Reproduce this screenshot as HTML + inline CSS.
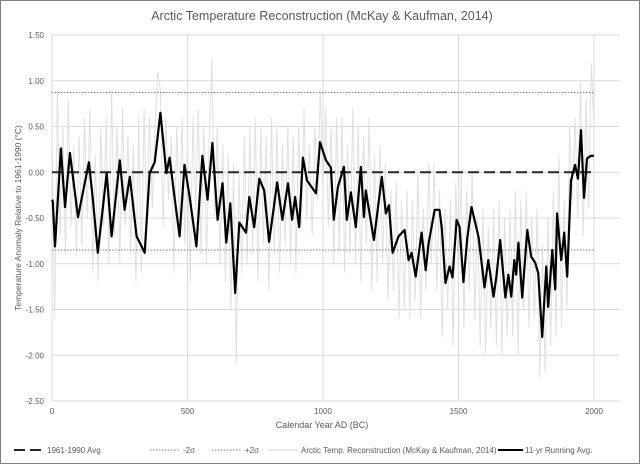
<!DOCTYPE html>
<html><head><meta charset="utf-8"><style>
body{margin:0;background:#fff}
#wrap{position:relative;width:638px;height:462px;border:1px solid #7f7f7f;overflow:hidden;font-family:"Liberation Sans",sans-serif}
svg{position:absolute;left:-1px;top:-1px}
</style></head><body>
<div id="wrap">
<svg id="c" width="640" height="464"></svg>
</div>
<script>
const xTicks=[0,500,1000,1500,2000];
const yTicks=[1.5,1.0,0.5,0.0,-0.5,-1.0,-1.5,-2.0,-2.5];
const avgYears=[0,3,11,33,48,66,77,96,136,151,169,202,220,250,268,287,312,342,360,379,400,422,434,452,471,489,507,533,555,574,592,611,629,643,658,676,691,716,728,746,765,783,801,831,850,871,886,897,912,926,941,974,989,1011,1029,1040,1055,1077,1088,1103,1121,1140,1151,1158,1188,1217,1232,1243,1257,1279,1301,1316,1327,1342,1364,1379,1390,1412,1430,1438,1452,1467,1478,1493,1504,1518,1533,1548,1574,1596,1610,1629,1640,1654,1673,1684,1695,1706,1713,1721,1735,1754,1768,1783,1794,1809,1824,1831,1846,1857,1864,1879,1890,1901,1915,1930,1941,1952,1963,1974,1988,2000];
const avgValues=[-0.3,-0.32,-0.81,0.26,-0.38,0.21,-0.05,-0.49,0.11,-0.30,-0.88,-0.01,-0.70,0.13,-0.41,-0.05,-0.70,-0.88,-0.01,0.11,0.65,-0.01,0.16,-0.27,-0.70,0.08,-0.25,-0.81,0.18,-0.30,0.32,-0.52,-0.12,-0.77,-0.34,-1.32,-0.55,-0.66,-0.27,-0.60,-0.07,-0.20,-0.76,-0.11,-0.52,-0.12,-0.52,-0.27,-0.60,0.16,-0.09,-0.23,0.33,0.13,0.05,-0.52,-0.16,0.06,-0.52,-0.22,-0.60,0.06,-0.49,-0.20,-0.74,-0.05,-0.45,-0.36,-0.88,-0.70,-0.63,-0.96,-0.88,-1.14,-0.66,-1.07,-0.77,-0.41,-0.41,-0.60,-1.21,-1.03,-1.15,-0.52,-0.60,-1.20,-0.71,-0.38,-0.71,-1.26,-0.96,-1.36,-1.14,-0.74,-1.37,-1.12,-1.36,-0.96,-1.12,-0.77,-1.37,-0.63,-0.92,-0.99,-1.10,-1.80,-1.03,-1.47,-0.85,-1.28,-0.45,-0.96,-0.66,-1.14,-0.09,0.08,-0.07,0.46,-0.28,0.15,0.18,0.18];
const rawStart=0, rawStep=10;
const rawValues=[0.4,-1.6,0.9,-0.7,0.5,-0.9,0.8,-0.6,0.3,-0.9,
0.4,-0.8,0.6,-0.5,0.7,-1.1,0.2,-1.2,0.5,-0.6,
0.6,-1.0,0.9,-0.7,0.5,-1.0,0.7,-0.6,0.4,-0.9,
0.3,-1.2,0.6,-1.1,0.7,-0.5,0.6,-0.4,0.5,1.1,
0.9,-0.6,0.6,-0.3,0.4,-1.1,0.5,-0.6,0.6,-0.8,
0.3,-1.2,0.6,-0.4,0.7,-0.9,0.5,-1.0,0.4,1.25,
-0.5,0.5,-1.0,0.3,-1.2,0.2,-1.5,0.1,-2.1,0.0,
-1.1,0.4,-1.0,0.5,-0.9,0.6,-1.2,0.5,-0.8,0.4,
-1.3,0.6,-0.9,0.5,-1.1,0.3,-0.8,0.5,-1.0,0.4,
-1.1,0.5,-0.6,0.7,-0.5,0.3,-0.7,0.5,-0.3,0.9,
-0.2,0.7,-0.6,0.5,-1.0,0.6,-0.9,0.6,-1.1,0.3,
-0.9,0.7,-1.0,0.5,-1.2,0.4,-0.8,0.6,-1.3,0.2,
-1.2,0.3,-1.0,0.1,-1.4,-0.2,-1.3,-0.1,-1.6,-0.3,
-1.5,-0.2,-1.6,-0.3,-1.4,0.0,-1.6,-0.4,-1.3,0.1,
-1.0,0.1,-1.3,-0.2,-1.8,-0.4,-1.5,-0.3,-1.9,-0.1,
-1.2,0.0,-1.7,-0.2,-1.3,0.0,-1.6,-0.5,-1.9,-0.4,
-2.0,-0.6,-1.7,-0.4,-1.9,-0.3,-2.0,-0.5,-1.8,-0.4,
-1.8,-0.2,-2.0,-0.3,-1.5,-0.2,-1.7,-0.5,-1.6,-0.4,
-2.25,-0.8,-2.2,-0.5,-1.9,-0.2,-1.8,0.2,-1.7,-0.3,
-1.5,0.5,-0.3,0.6,-0.5,1.0,-0.7,0.8,-0.4,1.2,0.5];
const baseline=0.0, plus2s=0.87, minus2s=-0.85;

const NS='http://www.w3.org/2000/svg';
const svg=document.getElementById('c');
const X0=52,X1=620,Y0=35,Y1=401;
function sx(v){return X0+(v-0)*(594-52)/2000;}
function sy(v){return Y0+(1.5-v)*(Y1-Y0)/4;}
function mk(t,a,p){const e=document.createElementNS(NS,t);for(const k in a)e.setAttribute(k,a[k]);(p||svg).appendChild(e);return e;}

yTicks.forEach(v=>{
 const l=mk('line',{x1:X0,x2:X1,y1:sy(v),y2:sy(v),stroke:'#d9d9d9','stroke-width':1});
 
 
 const t=mk('text',{x:44,y:sy(v)+3,'text-anchor':'end','font-size':8,fill:'#595959'});
 t.textContent=v.toFixed(2);
 
 
});
xTicks.forEach(v=>{
 const l=mk('line',{x1:sx(v),x2:sx(v),y1:Y0,y2:Y1,stroke:'#d9d9d9','stroke-width':1});
 
 
 const t=mk('text',{x:sx(v),y:414,'text-anchor':'middle','font-size':8,fill:'#595959'});
 t.textContent=v;
 
 
});
let rp=rawValues.map((v,i)=>sx(rawStart+i*rawStep).toFixed(1)+','+sy(v).toFixed(1)).join(' ');
const raw=mk('polyline',{points:rp,fill:'none',stroke:'#e0e0e0','stroke-width':1});


const ref=[[plus2s,'plus-2-sigma-line','1.5,1.5',1,'#7f7f7f'],[minus2s,'minus-2-sigma-line','1.5,1.5',1,'#7f7f7f'],[baseline,'baseline-avg-line','11,5',2,'#262626']];
ref.forEach(r=>{
 const l=mk('line',{x1:X0,x2:594,y1:sy(r[0]),y2:sy(r[0]),stroke:r[4],'stroke-width':r[3],'stroke-dasharray':r[2]});
 
 
});
let ap=avgYears.map((y,i)=>sx(y).toFixed(1)+','+sy(avgValues[i]).toFixed(1)).join(' ');
const avg=mk('polyline',{points:ap,fill:'none',stroke:'#000','stroke-width':2.2,'stroke-linejoin':'round'});


</script>
<svg width="640" height="464" style="position:absolute;left:0;top:0;pointer-events:none">
<text x="322" y="20" text-anchor="middle" font-size="12.5" fill="#595959" font-family="Liberation Sans">Arctic Temperature  Reconstruction (McKay &amp; Kaufman, 2014)</text>
<text transform="translate(21,218) rotate(-90)" text-anchor="middle" font-size="8.5" fill="#595959" font-family="Liberation Sans">Temperature Anomaly Relative to 1961-1990 (°C)</text>
<text x="322" y="428" text-anchor="middle" font-size="9" fill="#595959" font-family="Liberation Sans">Calendar Year AD (BC)</text>
<g font-size="8" fill="#595959" font-family="Liberation Sans">
<g><line x1="14" x2="44" y1="450" y2="450" stroke="#262626" stroke-width="2" stroke-dasharray="11,5"/><text x="47" y="453">1961-1990 Avg</text></g>
<g><line x1="150" x2="180" y1="450" y2="450" stroke="#7f7f7f" stroke-dasharray="1.5,1.5"/><text x="183" y="453">-2σ</text></g>
<g><line x1="212" x2="242" y1="450" y2="450" stroke="#7f7f7f" stroke-dasharray="1.5,1.5"/><text x="245" y="453">+2σ</text></g>
<g><line x1="268" x2="298" y1="450" y2="450" stroke="#d0d0d0"/><text x="301" y="453">Arctic Temp. Reconstruction (McKay &amp; Kaufman, 2014)</text></g>
<g><line x1="498" x2="523" y1="450" y2="450" stroke="#000" stroke-width="2"/><text x="525" y="453">11-yr Running Avg.</text></g>
</g>
</svg>
</body></html>
